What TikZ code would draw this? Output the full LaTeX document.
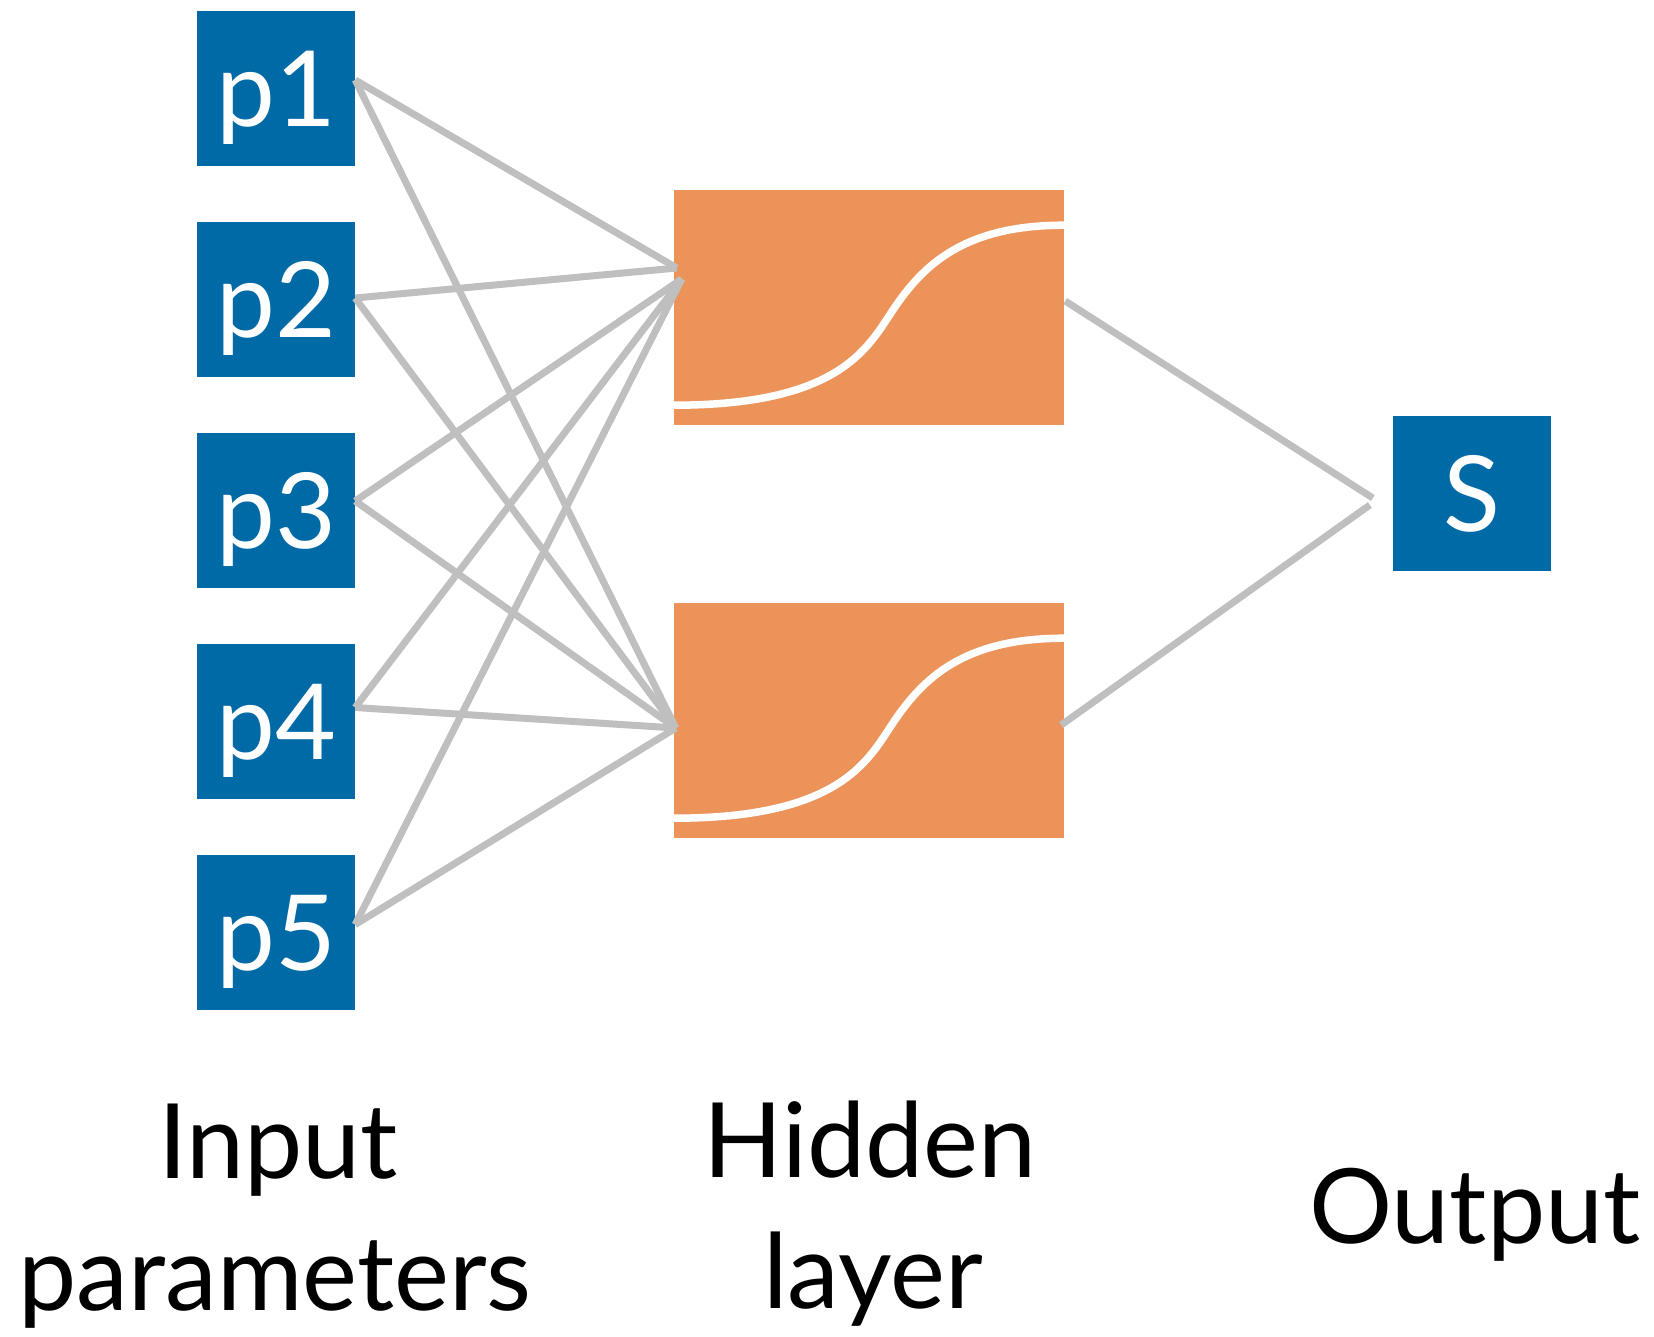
\documentclass[tikz,border=0pt]{standalone}
\usepackage{fontspec}
\setmainfont{Lato}
\usetikzlibrary{calc}
\definecolor{pblue}{HTML}{006AA6}
\definecolor{horange}{HTML}{EC935A}
\definecolor{wiregray}{HTML}{BFBFBF}
\begin{document}
\begin{tikzpicture}[x=1pt,y=-1pt,
  inbox/.style={fill=pblue, minimum width=158pt, minimum height=155pt, inner sep=0pt,
    text=white, font=\fontsize{105}{120}\selectfont, text height=75pt, text depth=0pt},
  hbox/.style={fill=horange, minimum width=390pt, minimum height=235pt, inner sep=0pt},
  sig/.style={draw=white, line width=7.5pt},
  wire/.style={draw=wiregray, line width=7pt},
  lab/.style={font=\fontsize{104}{120}\selectfont, inner sep=0pt, anchor=base}]
\useasboundingbox (0,0) rectangle (1654,1336);
% input boxes
\node[inbox] (p1) at (276,88.5) {p1};
\node[inbox] (p2) at (276,299.5) {p2};
\node[inbox] (p3) at (276,510.5) {p3};
\node[inbox] (p4) at (276,721.5) {p4};
\node[inbox] (p5) at (276,932.5) {p5};
% hidden boxes
\node[hbox] (h1) at (869,307.5) {};
\node[hbox] (h2) at (869,720.5) {};
% output box
\node[inbox] (s) at (1472,493.5) {S};
% sigmoids
\begin{scope}[shift={(h1.south west)}]
\draw[sig] (0,-20) .. controls (166,-20) and (194,-77.5) .. (219,-115) .. controls (249,-160) and (290,-200) .. (390,-200);
\end{scope}
\begin{scope}[shift={(h2.south west)}]
\draw[sig] (0,-20) .. controls (166,-20) and (194,-77.5) .. (219,-115) .. controls (249,-160) and (290,-200) .. (390,-200);
\end{scope}
% connector end points
\coordinate (o1) at ([yshift=8.5pt]p1.east);
\coordinate (o2) at ([yshift=1.5pt]p2.east);
\coordinate (o3) at ([yshift=9.5pt]p3.east);
\coordinate (o4) at ([yshift=14pt]p4.east);
\coordinate (o5) at ([yshift=8pt]p5.east);
\coordinate (a1) at ([xshift=3pt,yshift=39.5pt]h1.west);
\coordinate (a2) at ([xshift=8pt,yshift=28.5pt]h1.west);
\coordinate (b1) at ([xshift=2pt,yshift=-7.5pt]h2.west);
\coordinate (c1) at ([xshift=1pt,yshift=6.5pt]h1.east);
\coordinate (c2) at ([xshift=-3pt,yshift=-4.5pt]h2.east);
\coordinate (d1) at ([xshift=-20pt,yshift=-4.5pt]s.west);
\coordinate (d2) at ([xshift=-23pt,yshift=-11.5pt]s.west);
% connectors
\draw[wire] (o1) -- (a1);
\draw[wire] (o1) -- (b1);
\draw[wire] (o2) -- (a1);
\draw[wire] (o2) -- (b1);
\draw[wire] (o3) -- (a2);
\draw[wire] (o3) -- (b1);
\draw[wire] (o4) -- (a2);
\draw[wire] (o4) -- (b1);
\draw[wire] (o5) -- (a2);
\draw[wire] (o5) -- (b1);
\draw[wire] (c1) -- (d1);
\draw[wire] (c2) -- (d2);
% labels
\node[lab] (l1) at (278,1178) {Input};
\node[lab] (l2) at (275,1310) {parameters};
\node[lab] (l3) at (870,1177) {Hidden};
\node[lab] (l4) at (873,1308) {layer};
\node[lab] (l5) at (1475,1243) {Output};
\end{tikzpicture}
\end{document}
